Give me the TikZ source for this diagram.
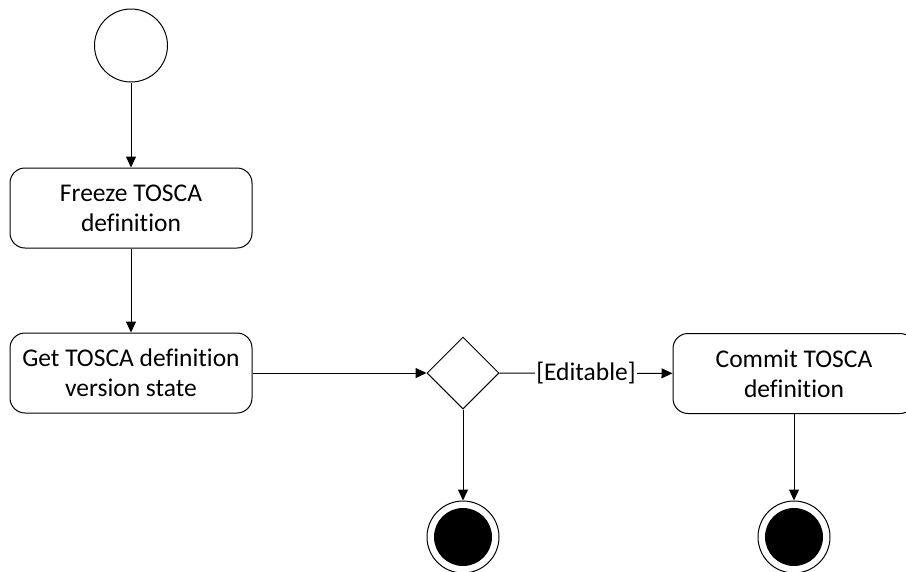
\documentclass[tikz,border=0pt]{standalone}
\usepackage{fontspec}
\setmainfont{Carlito}[Ligatures=NoCommon]
\usetikzlibrary{arrows.meta,shapes.geometric}
\begin{document}
\begin{tikzpicture}[x=1pt,y=-1pt,
  line width=1pt,
  action/.style={draw,rounded corners=15pt,minimum width=242pt,minimum height=80pt,
    align=center,font=\fontsize{25.5}{30}\selectfont,inner sep=0pt},
  decision/.style={draw,diamond,minimum width=72pt,minimum height=72pt,inner sep=0pt},
  initial/.style={draw,circle,minimum size=73pt,inner sep=0pt},
  final/.style={draw,circle,minimum size=72pt,inner sep=0pt},
  flow/.style={-{Triangle[length=11pt,width=10pt]}},
  guard/.style={font=\fontsize{25.5}{30}\selectfont,inner sep=1pt,fill=white}]
\useasboundingbox (0,0) rectangle (906,571);
\clip (0,0) rectangle (906,571);

\node[initial] (start) at (131,45.5) {};
\node[action] (freeze) at (131,208) {Freeze TOSCA\\definition};
\node[action] (getstate) at (131,373) {Get TOSCA definition\\version state};
\node[decision] (choice) at (463,373) {};
\node[action] (commit) at (794,373.5) {Commit TOSCA\\definition};
\node[final] (endA) at (463,537) {};
\node[final] (endB) at (794,537) {};
\fill (endA) circle (29pt);
\fill (endB) circle (29pt);

\draw[flow] (start) -- (freeze);
\draw[flow] (freeze) -- (getstate);
\draw[flow] (getstate) -- (choice);
\draw[flow] (choice) -- node[guard] {[Editable]} (commit);
\draw[flow] (choice) -- (endA);
\draw[flow] (commit) -- (endB);
\end{tikzpicture}
\end{document}
